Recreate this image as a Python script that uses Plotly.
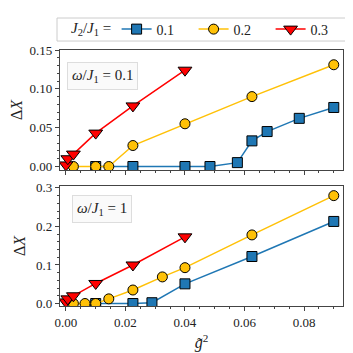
import plotly.graph_objects as go
from plotly.subplots import make_subplots

# omega/J1 = 0.1 (top panel)
x_top_01 = [0.01, 0.0225, 0.04, 0.0484, 0.0576, 0.0625, 0.0676, 0.0784, 0.09]
y_top_01 = [0.0, 0.0, 0.0, 0.0, 0.005, 0.033, 0.045, 0.062, 0.076]
x_top_02 = [0.0025, 0.01, 0.0144, 0.0225, 0.04, 0.0625, 0.09]
y_top_02 = [0.0, 0.0, 0.0, 0.027, 0.055, 0.090, 0.131]
x_top_03 = [0.0, 0.000625, 0.0025, 0.01, 0.0225, 0.04]
y_top_03 = [0.002, 0.010, 0.016, 0.043, 0.078, 0.124]

# omega/J1 = 1 (bottom panel)
x_bot_01 = [0.01, 0.0225, 0.0289, 0.04, 0.0625, 0.09]
y_bot_01 = [0.0, 0.0, 0.002, 0.051, 0.122, 0.213]
x_bot_02 = [0.0025, 0.0064, 0.01, 0.0144, 0.0225, 0.0324, 0.04, 0.0625, 0.09]
y_bot_02 = [0.0, 0.0, 0.0, 0.012, 0.035, 0.069, 0.093, 0.178, 0.280]
x_bot_03 = [0.0, 0.000625, 0.0025, 0.01, 0.0225, 0.04]
y_bot_03 = [0.004, 0.012, 0.020, 0.052, 0.100, 0.173]

series = [
    ("0.1", "#1f77b4", "square", 10),
    ("0.2", "#ffc107", "circle", 10),
    ("0.3", "#ff0000", "triangle-down", 12),
]
top_data = [(x_top_01, y_top_01), (x_top_02, y_top_02), (x_top_03, y_top_03)]
bot_data = [(x_bot_01, y_bot_01), (x_bot_02, y_bot_02), (x_bot_03, y_bot_03)]

fig = make_subplots(rows=2, cols=1, shared_xaxes=True, vertical_spacing=0.0625)

for (name, col, sym, sz), (xt, yt), (xb, yb) in zip(series, top_data, bot_data):
    mk = dict(color=col, symbol=sym, size=sz, line=dict(color="black", width=1))
    fig.add_trace(go.Scatter(x=xt, y=yt, mode="lines+markers", name=name,
                             line=dict(color=col, width=1.5), marker=mk,
                             legendgroup=name), row=1, col=1)
    fig.add_trace(go.Scatter(x=xb, y=yb, mode="lines+markers", name=name,
                             line=dict(color=col, width=1.5), marker=mk,
                             legendgroup=name, showlegend=False), row=2, col=1)

font = "Liberation Serif"
axis_common = dict(showline=True, linecolor="#444", linewidth=1.2, mirror=True,
                   ticks="outside", ticklen=4, tickcolor="#444", showgrid=False,
                   zeroline=False, tickfont=dict(family=font, size=13, color="#222"))

fig.update_xaxes(range=[-0.002, 0.0931], dtick=0.02, tickformat=".2f",
                 minor=dict(ticks="outside", ticklen=2, dtick=0.005, tickcolor="#444"),
                 **axis_common)
fig.update_xaxes(title=dict(text="<i>g̃</i><sup>2</sup>", font=dict(family=font, size=16), standoff=8),
                 row=2, col=1)
fig.update_yaxes(range=[-0.0045, 0.15], dtick=0.05, tickformat=".2f",
                 minor=dict(ticks="outside", ticklen=2, dtick=0.01, tickcolor="#444"),
                 title=dict(text="Δ<i>X</i>", font=dict(family=font, size=16), standoff=6),
                 row=1, col=1, **axis_common)
fig.update_yaxes(range=[-0.0065, 0.305], dtick=0.1, tickformat=".1f",
                 minor=dict(ticks="outside", ticklen=2, dtick=0.02, tickcolor="#444"),
                 title=dict(text="Δ<i>X</i>", font=dict(family=font, size=16), standoff=6),
                 row=2, col=1, **axis_common)

box = dict(showarrow=False, xref="paper", yref="paper", xanchor="center", yanchor="middle",
           bgcolor="#fafafa", bordercolor="#dddddd", borderwidth=1, borderpad=4,
           font=dict(family=font, size=15, color="#222"))
fig.add_annotation(text="<i>ω</i>/<i>J</i><sub>1</sub> = 0.1", x=0.15, y=0.900, **box)
fig.add_annotation(text="<i>ω</i>/<i>J</i><sub>1</sub> = 1", x=0.15, y=0.379, **box)

# legend frame and its title, drawn by hand
fig.add_shape(type="rect", xref="paper", yref="paper", x0=-0.0106, x1=1.0141,
              y0=1.035, y1=1.125, line=dict(color="#cccccc", width=1), fillcolor="white",
              layer="below")
fig.add_annotation(text="<i>J</i><sub>2</sub>/<i>J</i><sub>1</sub> =", x=0.1095, y=1.082,
                   xref="paper", yref="paper", xanchor="center", yanchor="middle",
                   showarrow=False, font=dict(family=font, size=15, color="#222"))

fig.update_layout(
    width=353, height=353,
    margin=dict(l=52, r=18, t=42, b=55, autoexpand=False),
    plot_bgcolor="white", paper_bgcolor="white",
    font=dict(family=font, size=13, color="#222"),
    legend=dict(orientation="h", x=0.20, y=1.080, xanchor="left", yanchor="middle",
                bgcolor="rgba(0,0,0,0)", borderwidth=0,
                font=dict(family=font, size=14), entrywidth=32, itemwidth=30),
)

fig.write_html("out.html")
